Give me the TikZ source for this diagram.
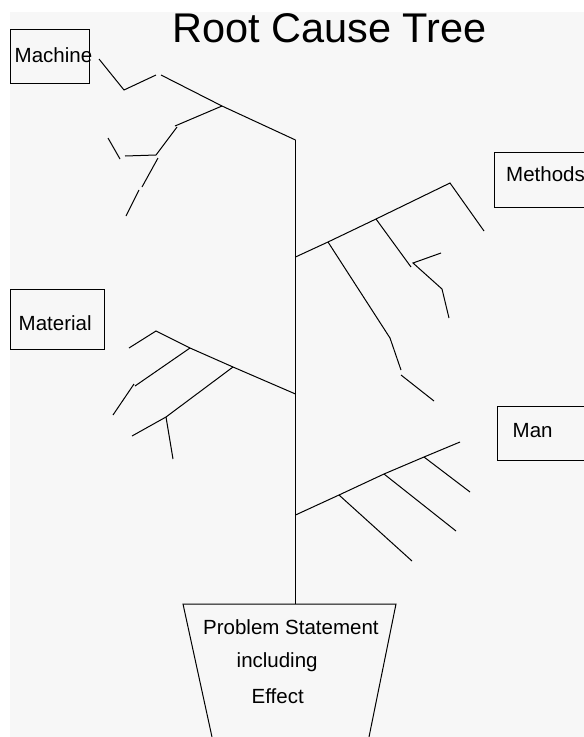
\documentclass[tikz,border=0pt]{standalone}
\usepackage{fontspec}
\setmainfont{Liberation Sans}
\definecolor{bgc}{HTML}{F7F7F7}
\begin{document}
\begin{tikzpicture}[x=1pt,y=-1pt,
  bone/.style={draw=black,line width=1pt},
  labelbox/.style={draw=black,line width=1pt,fill=none},
  lbl/.style={anchor=base west,inner sep=0pt,font=\fontsize{20.5}{24}\selectfont},
  ttl/.style={anchor=base west,inner sep=0pt,font=\fontsize{41.5}{48}\selectfont}]
\useasboundingbox (0,0) rectangle (584,737);
\clip (0,0) rectangle (584,737);
\fill[bgc] (10,12) rectangle (584,737);
% title
\node[ttl] (title) at (172,42) {Root Cause Tree};
% boxes
\draw[labelbox] (10,29) rectangle (89,83);
\draw[labelbox] (494,152) rectangle (600,207);
\draw[labelbox] (10,289) rectangle (104,349);
\draw[labelbox] (497,406) rectangle (600,460);
\node[lbl] (machine) at (14.5,62) {Machine};
\node[lbl] (methods) at (506,181) {Methods};
\node[lbl] (material) at (18.5,330) {Material};
\node[lbl] (man) at (512.5,437) {Man};
% trunk coordinates
\coordinate (T0) at (295.5,140);
\coordinate (Tme) at (295.5,257);
\coordinate (Tma) at (295.5,394);
\coordinate (Tmn) at (295.5,515);
\coordinate (Tb) at (295.5,604);
\draw[bone] (T0) -- (Tme) -- (Tma) -- (Tmn) -- (Tb);
% machine
\coordinate (A1) at (161,75);
\coordinate (A2) at (222,106);
\coordinate (A3) at (99,59);
\coordinate (A4) at (124,90);
\coordinate (A5) at (156,75);
\coordinate (A6) at (175,126);
\coordinate (A7) at (177,127);
\coordinate (A8) at (156,155);
\coordinate (A9) at (125,156);
\coordinate (A10) at (108,138);
\coordinate (A11) at (120,159);
\coordinate (A12) at (158,158);
\coordinate (A13) at (142,187);
\coordinate (A14) at (139,190);
\coordinate (A15) at (126,216);
\draw[bone] (A1) -- (A2) -- (T0);
\draw[bone] (A3) -- (A4) -- (A5);
\draw[bone] (A2) -- (A6);
\draw[bone] (A7) -- (A8) -- (A9);
\draw[bone] (A10) -- (A11);
\draw[bone] (A12) -- (A13);
\draw[bone] (A14) -- (A15);
% methods
\coordinate (B1) at (328,242);
\coordinate (B2) at (376,219);
\coordinate (B3) at (450,183);
\coordinate (B4) at (484,231);
\coordinate (B5) at (411,267);
\coordinate (B6) at (413,263);
\coordinate (B7) at (441,253);
\coordinate (B8) at (442,289);
\coordinate (B9) at (449,318);
\coordinate (B10) at (390,338);
\coordinate (B11) at (401,370);
\coordinate (B12) at (401,375);
\coordinate (B13) at (434,401);
\draw[bone] (Tme) -- (B1) -- (B2) -- (B3) -- (B4);
\draw[bone] (B2) -- (B5);
\draw[bone] (B7) -- (B6) -- (B8) -- (B9);
\draw[bone] (B1) -- (B10) -- (B11);
\draw[bone] (B12) -- (B13);
% material
\coordinate (C1) at (156,331);
\coordinate (C2) at (190,348);
\coordinate (C3) at (233,367);
\coordinate (C4) at (129,348);
\coordinate (C5) at (135,386);
\coordinate (C6) at (134,384);
\coordinate (C7) at (113,415);
\coordinate (C8) at (166,417);
\coordinate (C9) at (132,436);
\coordinate (C10) at (173,459);
\draw[bone] (C4) -- (C1) -- (C2) -- (C3) -- (Tma);
\draw[bone] (C2) -- (C5);
\draw[bone] (C6) -- (C7);
\draw[bone] (C3) -- (C8) -- (C9);
\draw[bone] (C8) -- (C10);
% man
\coordinate (D1) at (339,495);
\coordinate (D2) at (384,474);
\coordinate (D3) at (424,457);
\coordinate (D4) at (460,442);
\coordinate (D5) at (412,561);
\coordinate (D6) at (456,531);
\coordinate (D7) at (470,492);
\draw[bone] (Tmn) -- (D1) -- (D2) -- (D3) -- (D4);
\draw[bone] (D1) -- (D5);
\draw[bone] (D2) -- (D6);
\draw[bone] (D3) -- (D7);
% pot
\coordinate (P1) at (183,604);
\coordinate (P2) at (396,604);
\coordinate (P3) at (212,737);
\coordinate (P4) at (369,737);
\draw[bone] (P3) -- (P1) -- (P2) -- (P4);
\node[lbl] (prob) at (203,634) {Problem Statement};
\node[lbl] (incl) at (236.5,667) {including};
\node[lbl] (eff) at (251.5,703) {Effect};
\end{tikzpicture}
\end{document}
